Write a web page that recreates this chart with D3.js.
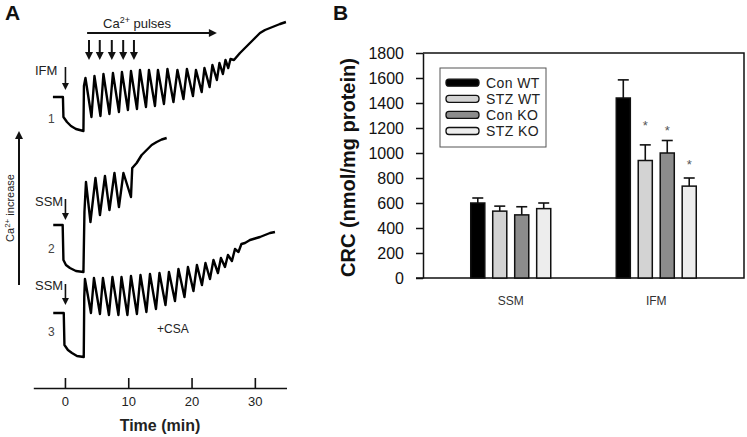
<!DOCTYPE html>
<html><head><meta charset="utf-8">
<script src="https://cdn.jsdelivr.net/npm/d3@7"></script>
<style>
body{margin:0;background:#fff}
svg{display:block}
text{font-family:"Liberation Sans",Arial,sans-serif}
</style>
</head><body>
<svg id="c" width="747" height="437"></svg>
<script>
// ---------- Panel B data ----------
const groups = ["SSM", "IFM"];
const seriesNames = ["Con WT", "STZ WT", "Con KO", "STZ KO"];
const seriesColors = ["#000000", "#d3d3d3", "#8c8c8c", "#ededed"];
const ssmMeans = [600, 535, 505, 555];
const ssmErrors = [40, 40, 65, 45];
const ifmMeans = [1440, 940, 1000, 735];
const ifmErrors = [145, 125, 100, 65];
const ifmAsteriskLevel = [null, 1225, 1185, 915];
const yTicksB = [0, 200, 400, 600, 800, 1000, 1200, 1400, 1600, 1800];

// ---------- Panel A data (time in min, signal in a.u.) ----------
const timeTicks = [0, 10, 20, 30];
const pulseTimes = [3.8, 5.5, 7.4, 9.2, 10.9];
const pulseSpan = [3.5, 24];
const trace1Time = [-1.90,-0.32,-0.24,0.32,0.95,1.74,2.92,3.0,3.24,4.19,4.66,5.61,6.08,7.03,7.58,8.53,9.0,9.95,10.43,11.38,11.85,12.80,13.27,14.22,14.69,15.64,16.19,17.14,17.77,18.72,19.27,20.22,20.70,21.6,22.04,22.85,23.30,24.0,24.41,24.95,25.36,25.8,26.15,26.7,27.65,28.44,29.23,30.02,30.81,31.6,32.39,33.18,33.97,34.91];
const trace1Signal = [34,34,14,9,5,2,0,45,53,14,55,15,57,17,58,19,59,21,60,22,61,24,61,25,61,27,62,29,61,32,62,35,61,39,63,44,66,51,68,57,71,63,72,71,78,83,88,93,98,101,103,105,107,109];
const trace2Time = [-1.85,-0.36,-0.24,0.16,0.79,1.74,2.92,3.08,3.32,4.03,4.82,5.53,6.32,7.03,7.82,8.53,9.24,10.43,10.63,11.33,12.12,12.91,13.70,14.49,15.28,16.07];
const trace2Signal = [47,47,12,7,4,1,0,60,90,50,94,57,96,62,99,65,99,75,104,109,117,122,127,130,132.5,134];
const trace3Time = [-1.85,-0.19,-0.08,0.47,1.11,1.90,2.97,3.05,3.16,4.11,4.58,5.53,6.00,6.95,7.50,8.45,8.93,9.87,10.43,11.37,11.93,12.87,13.43,14.38,14.93,15.88,16.43,17.38,17.93,18.88,19.43,20.30,20.85,21.64,22.20,22.91,23.46,24.17,24.64,25.28,25.75,26.38,26.86,27.41,27.88,28.44,29.23,30.02,30.81,31.60,32.39,33.18];
const trace3Signal = [44,44,12,7,4,1,0,60,78,44,79,43,79,42,80,42,80,42,81,43,82,45,83,48,84,52,85,56,88,60,90,66,92,72,94,78,97,84,99,90,102,96,108,105,113,114,117,118.5,120,122,124,125];

const svg = d3.select("#c");
const ink = "#111";

function arrowHead(g, x, y, dir, size) {
  const s = size || 8;
  let pts;
  if (dir === "down") pts = [[x - s/2, y - s], [x + s/2, y - s], [x, y]];
  else if (dir === "up") pts = [[x - s/2, y + s], [x + s/2, y + s], [x, y]];
  else pts = [[x - s, y - s/2], [x - s, y + s/2], [x, y]];
  g.append("path").attr("d", d3.line()(pts) + "Z").attr("fill", ink);
}

// ================= Panel A =================
const gA = svg.append("g");
const xA = d3.scaleLinear().domain([-5, 35]).range([33.3, 286.5]);
const axisY = 388;

gA.append("g").attr("transform", `translate(0,${axisY})`)
  .call(d3.axisBottom(xA).tickValues(timeTicks).tickSizeInner(-10).tickSizeOuter(0).tickPadding(9))
  .call(g => {
    g.select(".domain").attr("stroke", ink).attr("stroke-width", 1.6);
    g.selectAll(".tick line").attr("stroke", ink).attr("stroke-width", 1.6);
    g.selectAll(".tick text").attr("font-size", 13).attr("fill", "#222")
      .attr("font-family", '"Liberation Sans",Arial,sans-serif');
  });
gA.append("text").attr("x", 160).attr("y", 431).attr("text-anchor", "middle")
  .attr("font-size", 16).attr("font-weight", "bold").attr("fill", "#222").text("Time (min)");

const traces = [
  {t: trace1Time, s: trace1Signal, bottom: 131},
  {t: trace2Time, s: trace2Signal, bottom: 272},
  {t: trace3Time, s: trace3Signal, bottom: 357}
];
traces.forEach(tr => {
  const yS = d3.scaleLinear().domain([0, 140]).range([tr.bottom, tr.bottom - 140]);
  const pts = tr.t.map((t, i) => [xA(t), yS(tr.s[i])]);
  gA.append("path").attr("d", d3.line()(pts)).attr("fill", "none")
    .attr("stroke", "#000").attr("stroke-width", 2.4).attr("stroke-linejoin", "round");
});

gA.append("text").attr("x", 5).attr("y", 20).attr("font-size", 21).attr("font-weight", "bold").attr("fill", ink).text("A");

// Ca2+ pulses label + arrow
const tp = gA.append("text").attr("x", 103).attr("y", 28).attr("font-size", 13).attr("fill", "#222");
tp.append("tspan").text("Ca");
tp.append("tspan").attr("dy", -5).attr("font-size", 9).text("2+");
tp.append("tspan").attr("dy", 5).text(" pulses");
gA.append("line").attr("x1", xA(pulseSpan[0])).attr("x2", xA(pulseSpan[1]) - 6).attr("y1", 33).attr("y2", 33)
  .attr("stroke", ink).attr("stroke-width", 2);
arrowHead(gA, xA(pulseSpan[1]), 33, "right", 8);
pulseTimes.forEach(t => {
  gA.append("line").attr("x1", xA(t)).attr("x2", xA(t)).attr("y1", 40).attr("y2", 53)
    .attr("stroke", ink).attr("stroke-width", 2);
  arrowHead(gA, xA(t), 60, "down", 8);
});

// addition labels
const adds = [
  {label: "IFM", ty: 75, a0: 67, a1: 90, num: "1", ny: 123},
  {label: "SSM", ty: 206, a0: 199, a1: 220, num: "2", ny: 253},
  {label: "SSM", ty: 290, a0: 284, a1: 305, num: "3", ny: 336}
];
adds.forEach(a => {
  gA.append("text").attr("x", 35).attr("y", a.ty).attr("font-size", 13).attr("fill", "#222").text(a.label);
  const ax = xA(0) + 0.5;
  gA.append("line").attr("x1", ax).attr("x2", ax).attr("y1", a.a0).attr("y2", a.a1 - 6)
    .attr("stroke", ink).attr("stroke-width", 1.6);
  arrowHead(gA, ax, a.a1, "down", 7);
  gA.append("text").attr("x", 48).attr("y", a.ny).attr("font-size", 12).attr("fill", "#444").text(a.num);
});
gA.append("text").attr("x", 157).attr("y", 333).attr("font-size", 12).attr("fill", "#222").text("+CSA");

// vertical Ca2+ increase arrow
gA.append("line").attr("x1", 19).attr("x2", 19).attr("y1", 285).attr("y2", 138)
  .attr("stroke", ink).attr("stroke-width", 2);
arrowHead(gA, 19, 131, "up", 8);
const vt = gA.append("text").attr("transform", "translate(14,208) rotate(-90)")
  .attr("text-anchor", "middle").attr("font-size", 11).attr("fill", "#222");
vt.append("tspan").text("Ca");
vt.append("tspan").attr("dy", -4).attr("font-size", 8).text("2+");
vt.append("tspan").attr("dy", 4).text(" increase");

// ================= Panel B =================
const gB = svg.append("g");
const yB = d3.scaleLinear().domain([0, 1800]).range([278, 53]);
const xB = d3.scalePoint().domain(groups).range([423, 744]).padding(0.603);
const xIn = d3.scaleBand().domain(seriesNames).range([-40, 40]).paddingInner(0.36);

gB.append("text").attr("x", 333).attr("y", 20).attr("font-size", 21).attr("font-weight", "bold").attr("fill", ink).text("B");

gB.append("g").attr("transform", "translate(423,0)")
  .call(d3.axisLeft(yB).tickValues(yTicksB).tickSizeInner(7).tickSizeOuter(0).tickPadding(12).tickFormat(d3.format("d")))
  .call(g => {
    g.select(".domain").attr("stroke", ink).attr("stroke-width", 1.5);
    g.selectAll(".tick line").attr("stroke", ink).attr("stroke-width", 1.5);
    g.selectAll(".tick text").attr("font-size", 16).attr("fill", "#111")
      .attr("font-family", '"Liberation Sans",Arial,sans-serif');
  });
// frame
gB.append("path").attr("d", `M423,${yB(1800)}H744V${yB(0)}H416`).attr("fill", "none")
  .attr("stroke", ink).attr("stroke-width", 1.5);

gB.append("text").attr("transform", `translate(355,${(yB(0)+yB(1800))/2 + 2}) rotate(-90)`)
  .attr("text-anchor", "middle").attr("font-size", 20).attr("font-weight", "bold").attr("fill", "#111")
  .text("CRC (nmol/mg protein)");

const groupData = {SSM: {m: ssmMeans, e: ssmErrors, s: [null,null,null,null]},
                   IFM: {m: ifmMeans, e: ifmErrors, s: ifmAsteriskLevel}};
groups.forEach(gname => {
  const d = groupData[gname];
  seriesNames.forEach((sn, i) => {
    const cx = xB(gname) + xIn(sn) + xIn.bandwidth() / 2;
    const x0 = xB(gname) + xIn(sn);
    gB.append("line").attr("x1", cx).attr("x2", cx).attr("y1", yB(d.m[i])).attr("y2", yB(d.m[i] + d.e[i]))
      .attr("stroke", ink).attr("stroke-width", 1.6);
    gB.append("line").attr("x1", cx - 5.5).attr("x2", cx + 5.5).attr("y1", yB(d.m[i] + d.e[i])).attr("y2", yB(d.m[i] + d.e[i]))
      .attr("stroke", ink).attr("stroke-width", 1.6);
    gB.append("rect").attr("x", x0).attr("y", yB(d.m[i])).attr("width", xIn.bandwidth())
      .attr("height", yB(0) - yB(d.m[i])).attr("fill", seriesColors[i])
      .attr("stroke", ink).attr("stroke-width", 1.5);
    if (d.s[i] != null) {
      gB.append("text").attr("x", cx).attr("y", yB(d.s[i]) + 5).attr("text-anchor", "middle")
        .attr("font-size", 13).attr("fill", "#555").text("*");
    }
  });
  gB.append("text").attr("x", xB(gname)).attr("y", 305).attr("text-anchor", "middle")
    .attr("font-size", 12).attr("fill", "#333").text(gname);
});

// legend
const lg = gB.append("g");
lg.append("rect").attr("x", 440).attr("y", 68).attr("width", 106).attr("height", 79)
  .attr("fill", "#fff").attr("stroke", "#555").attr("stroke-width", 1);
seriesNames.forEach((sn, i) => {
  const cy = 82.7 + i * 16.1;
  lg.append("rect").attr("x", 446).attr("y", cy - 3.5).attr("width", 33).attr("height", 7)
    .attr("rx", 3).attr("fill", seriesColors[i]).attr("stroke", ink).attr("stroke-width", 1.3);
  lg.append("text").attr("x", 486).attr("y", cy + 5).attr("font-size", 14).attr("letter-spacing", 0.4)
    .attr("fill", "#222").text(sn);
});
</script>
</body></html>
